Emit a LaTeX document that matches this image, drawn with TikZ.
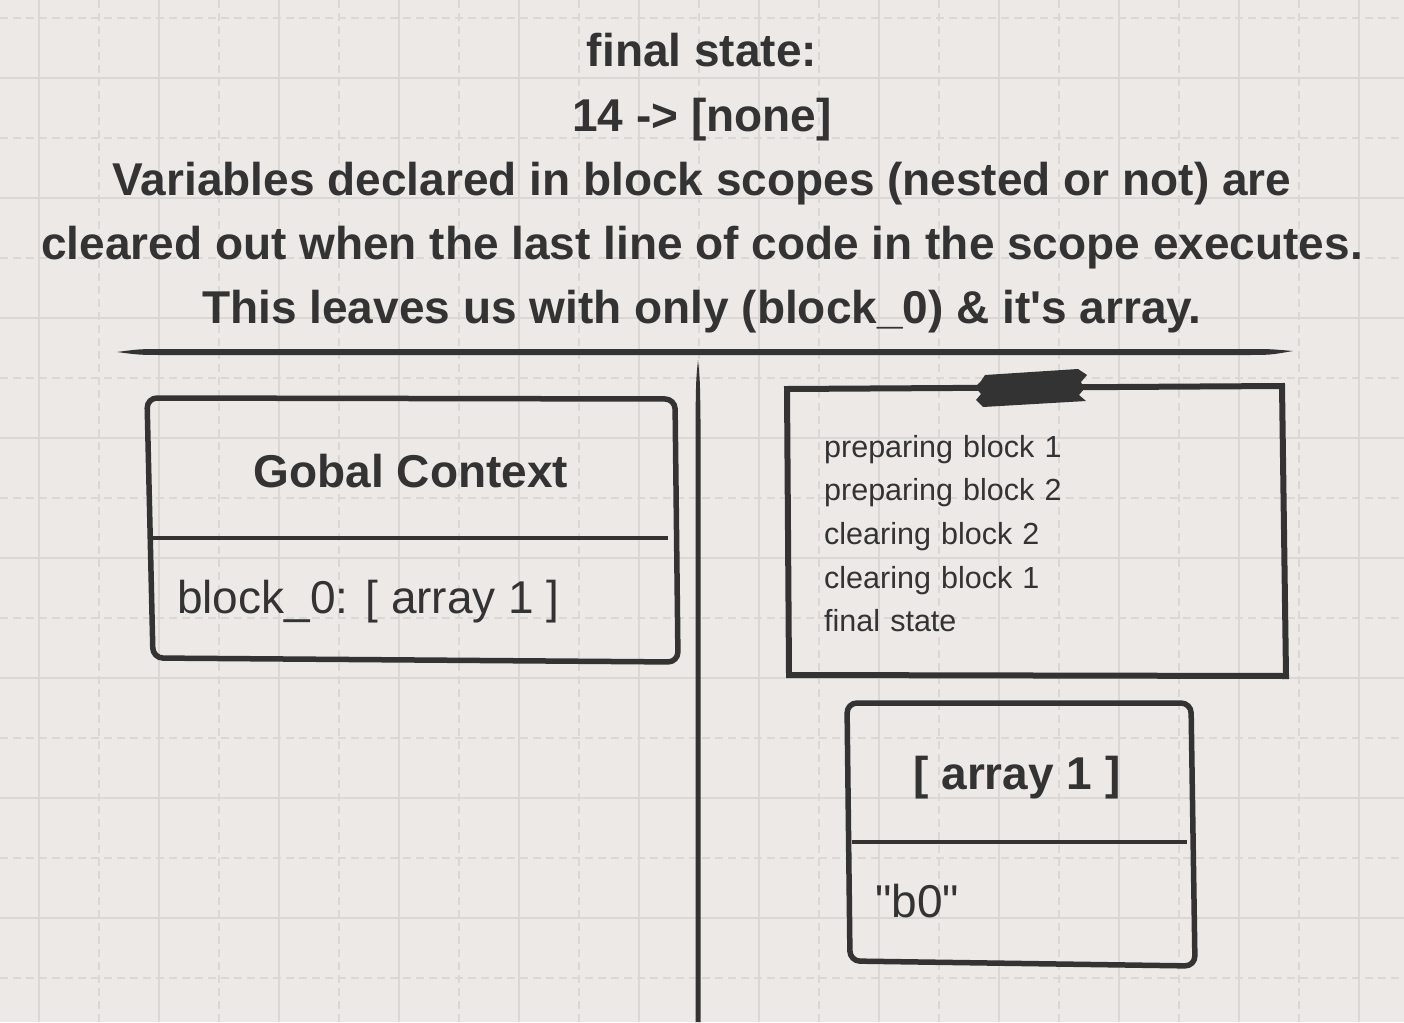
\documentclass[tikz,border=0pt]{standalone}
\usepackage{fontspec}
\newfontfamily\uifont{Liberation Sans}
\usetikzlibrary{positioning}
\definecolor{ink}{HTML}{333333}
\definecolor{paper}{HTML}{ECE9E6}
\definecolor{gridline}{HTML}{DAD7D4}

\begin{document}
\begin{tikzpicture}[x=1pt, y=-1pt,
  every node/.style={inner sep=0pt, text=ink, font=\uifont},
  headline/.style={font=\uifont\bfseries\fontsize{46}{55}\selectfont, text height=34pt, text depth=10pt},
  bigtext/.style={font=\uifont\fontsize{46}{55}\selectfont},
  bigbold/.style={font=\uifont\bfseries\fontsize{46}{55}\selectfont},
  logline/.style={font=\uifont\fontsize{30.5}{36}\selectfont, text height=23pt, text depth=7pt, text width=250pt, align=left},
  sketch/.style={draw=ink, line width=5.5pt, line join=round, rounded corners=10pt},
  gridmajor/.style={draw=gridline, line width=1.5pt},
  gridminor/.style={draw=gridline, line width=1.5pt, dash pattern=on 8pt off 5pt}]
\useasboundingbox (0,0) rectangle (1404,1022);
\fill[paper] (0,0) rectangle (1404,1022);

\foreach \gx in {39,159,...,1359} \draw[gridmajor] (\gx,0) -- (\gx,1022);
\foreach \gx in {99,219,...,1299} \draw[gridminor] (\gx,0) -- (\gx,1022);
\foreach \gy in {78,198,...,918} \draw[gridmajor] (0,\gy) -- (1404,\gy);
\foreach \gy in {18,138,...,978} \draw[gridminor] (0,\gy) -- (1404,\gy);

\node (head1) [headline, anchor=base] at (702,67) {final state:};
\node (head2) [headline, below=19.8pt of head1] {14 -> [none]};
\node (head3) [headline, below=19.8pt of head2] {Variables declared in block scopes (nested or not) are};
\node (head4) [headline, below=19.8pt of head3] {cleared out when the last line of code in the scope executes.};
\node (head5) [headline, below=19.8pt of head4] {This leaves us with only (block\_0) \& it's array.};

\fill[ink] (117,352) .. controls (140,349) .. (165,349) -- (1245,349)
  .. controls (1270,349) .. (1293,351) .. controls (1270,355) .. (1245,355)
  -- (165,355) .. controls (140,355) .. (117,352);
\fill[ink] (698,360) .. controls (700,380) .. (700.5,420) -- (700.5,1022)
  -- (695.5,1022) -- (695.5,420) .. controls (696,380) .. (698,360);

\draw[sketch] (147,398) -- (675,399) -- (678,662) -- (153,658) -- cycle;
\draw[ink, line width=4.5pt] (152,538) -- (668,538);
\node (gctitle) [bigbold, anchor=base] at (411,487) {Gobal Context};
\node (gcvar) [bigtext, anchor=base west] at (177,613) {block\_0: [ array 1 ]};

\draw[ink, line width=6pt, line join=miter] (787,389) -- (1282,386) -- (1286,676) -- (789,675) -- cycle;
\fill[ink] (985,375) -- (1078,369) -- (1087,375) -- (1081,382) -- (1084,389) -- (1079,395)
  -- (1086,401) -- (983,407) -- (976,400) -- (981,394) -- (975,387) -- (981,381) -- cycle;
\node (prep1) [logline, anchor=base west] at (824,457) {preparing block 1};
\node (prep2) [logline, below=13.3pt of prep1] {preparing block 2};
\node (clear2) [logline, below=13.3pt of prep2] {clearing block 2};
\node (clear1) [logline, below=13.3pt of clear2] {clearing block 1};
\node (final) [logline, below=13.3pt of clear1] {final state};

\draw[sketch] (847,703) -- (1191,703) -- (1195,966) -- (850,961) -- cycle;
\draw[ink, line width=4.5pt] (852,842) -- (1187,842);
\node (arrtitle) [bigbold, anchor=base] at (1017,789) {[ array 1 ]};
\node (arrval) [bigtext, anchor=base west] at (875,917) {"b0"};
\end{tikzpicture}
\end{document}
